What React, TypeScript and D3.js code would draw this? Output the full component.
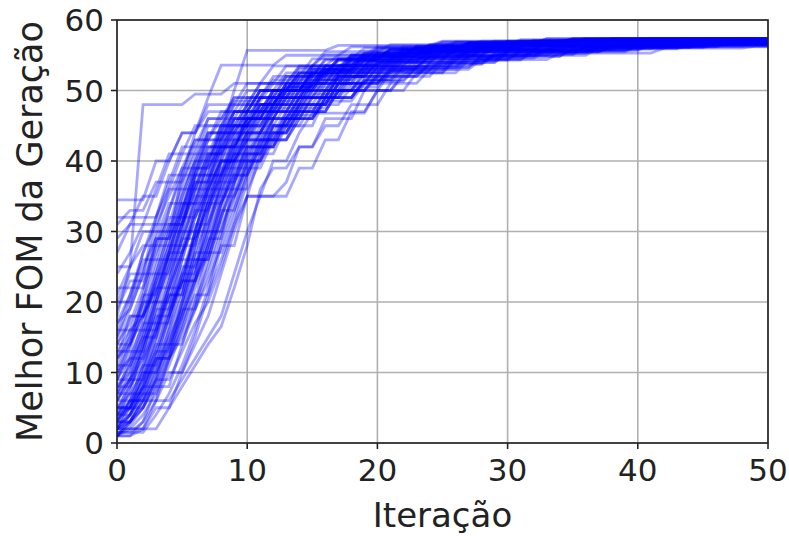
import React from 'react';
import * as d3 from 'd3';

// each run: [iteration, best FOM] at the iterations where the best value changed
// (value is held flat between change points)
const fastRuns: number[][][] = [
  [[0,34.5],[3,40],[5,44],[7,48],[10,51],[13,53.5],[16,55],[20,56.2],[26,56.9],[35,57.3]],
  [[0,32],[4,38],[6,43],[8,47],[11,50],[14,53],[18,55],[23,56.3],[30,56.9],[40,57.2]],
  [[0,27],[1,31],[3,36],[4,41],[6,45],[9,49],[12,52],[15,54.5],[19,56],[25,56.8],[33,57.3]],
  [[0,18],[1,25],[2,48],[6,49.5],[9,51],[12,53.5],[16,55.5],[21,56.5],[28,57],[38,57.4]],
  [[0,25],[2,30],[4,36],[5,41],[7,46],[9,49],[12,51.5],[15,53.5],[19,55.2],[24,56.2],[31,56.8],[41,57.2]],
  [[0,31],[1,33],[3,37],[5,42],[7,46],[9,48.5],[12,51],[15,53.5],[19,55.5],[24,56.5],[32,57.1]],
  [[0,24],[1,27],[2,31],[4,35],[5,39],[6,43],[8,46],[10,49],[13,52],[16,54.5],[20,56],[27,56.8],[36,57.2]],
  [[0,20],[1,24],[3,32],[4,37],[6,41],[8,45],[10,48],[13,51],[16,53.5],[20,55.4],[25,56.4],[33,57],[43,57.3]],
  [[0,29],[1,31],[2,35],[4,40],[5,44],[7,47],[10,50],[13,52.5],[17,54.5],[21,55.8],[27,56.6],[36,57.1]],
  [[0,22],[3,29],[4,34],[6,39],[7,43],[9,47],[11,50],[14,52.5],[18,54.8],[23,56],[30,56.7],[39,57.1]],
  [[0,20],[2,27],[3,31],[5,37],[6,42],[9,46],[12,50],[15,52.8],[19,54.8],[24,56],[31,56.7],[40,57.2]],
  [[0,11],[1,16],[3,24],[4,30],[6,38],[7,44],[9,50],[10,55.7],[17,56.4],[25,57],[36,57.4]],
  [[0,14],[2,21],[3,29],[5,38],[6,44],[7,49],[8,53.6],[13,55],[18,56.2],[25,56.9],[35,57.3]],
];

const typicalRuns: number[][][] = [
  [[0,2],[1,5],[3,9],[4,16],[5,22],[6,30],[7,36],[9,42],[11,46],[13,50],[15,52.5],[18,54.5],[22,55.8],[27,56.7],[35,57.3]],
  [[0,12],[1,18],[3,25],[4,31],[6,38],[8,44],[10,48],[13,51],[16,53.5],[20,55.3],[25,56.3],[32,57]],
  [[0,5],[2,10],[3,17],[5,24],[7,33],[8,40],[10,44],[12,47.5],[15,50],[18,52.5],[21,54.5],[26,55.8],[33,56.6]],
  [[0,7],[2,14],[3,20],[4,27],[5,33],[6,39],[8,45],[11,49],[14,52],[17,54.3],[21,55.7],[27,56.6],[36,57.2]],
  [[0,15],[1,19],[2,24],[4,30],[5,36],[7,41],[9,46],[12,49],[15,52],[18,54],[22,55.5],[28,56.4],[37,56.9]],
  [[0,9],[1,13],[3,19],[4,26],[6,33],[7,38],[9,43],[10,47],[13,50],[15,53],[19,55],[24,56.3],[31,57],[41,57.4]],
  [[0,4],[2,8],[3,13],[5,20],[6,27],[8,34],[9,39],[10,44],[12,48],[15,51],[18,53],[22,54.8],[27,55.8],[35,56.4]],
  [[0,6],[1,10],[2,15],[4,21],[5,28],[7,35],[8,41],[10,46],[13,49],[16,52],[19,54.2],[23,55.6],[29,56.5],[38,57.1]],
  [[0,3],[2,6],[3,11],[4,17],[5,23],[6,30],[8,37],[10,43],[11,47],[14,50],[17,52.5],[20,54.5],[25,55.9],[32,56.8]],
  [[0,10],[1,15],[2,20],[4,25],[5,31],[6,36],[8,40],[10,45],[12,48.5],[15,51.5],[18,53.8],[22,55.3],[28,56.5],[36,57.3]],
  [[0,13],[2,20],[3,28],[5,35],[6,40],[7,44],[9,48],[11,51],[14,53.5],[17,55],[22,56.2],[29,57]],
  [[0,8],[1,11],[2,16],[3,22],[5,29],[6,34],[7,40],[9,45],[11,49],[14,51.5],[18,53.5],[22,54.8],[28,55.6],[36,56.2]],
  [[0,5],[2,9],[3,15],[4,22],[6,30],[7,37],[8,42],[10,46],[12,49.5],[15,52.3],[18,54.3],[22,55.7],[28,56.6],[37,57.2]],
  [[0,17],[1,21],[2,26],[4,33],[5,39],[7,44],[9,47],[12,50],[15,53],[18,55],[23,56.2],[30,56.9]],
  [[0,6],[1,9],[2,13],[3,19],[5,26],[6,32],[7,37],[8,42],[10,46],[13,49],[16,51.5],[19,53.6],[23,55.2],[29,56.4],[38,57.3]],
  [[0,4],[1,7],[3,12],[4,18],[5,25],[7,31],[8,36],[10,41],[12,45],[14,49],[17,52],[20,54],[24,55.4],[30,56.2],[40,56.7]],
  [[0,9],[2,12],[3,17],[4,23],[5,30],[6,35],[8,39],[9,43],[11,47],[14,50],[16,52.8],[20,54.8],[25,56],[32,56.7],[42,57.1]],
  [[0,7],[1,12],[3,18],[4,24],[5,29],[7,34],[8,38],[9,41],[11,45],[13,48],[16,51],[19,53.5],[23,55],[29,56],[38,56.5]],
  [[0,12],[1,14],[2,19],[3,24],[5,32],[6,37],[8,43],[9,46],[11,49],[13,52],[16,54.3],[20,55.8],[26,56.8],[35,57.4]],
  [[0,3],[1,5],[2,10],[3,15],[4,20],[5,26],[7,33],[8,38],[9,42],[12,46],[14,49],[17,52],[20,54],[24,55.5],[30,56.4],[39,56.9]],
  [[0,16],[2,18],[3,23],[4,28],[5,34],[7,40],[8,45],[10,48],[13,51],[15,53.5],[19,55.3],[24,56.4],[31,57.2]],
  [[0,8],[2,13],[3,20],[5,27],[6,33],[8,38],[9,44],[11,48],[13,50.5],[16,53],[19,54.8],[24,56],[31,56.8]],
  [[0,10],[1,12],[2,17],[4,22],[5,27],[6,33],[7,38],[9,42],[10,45],[12,48],[15,51],[18,53.2],[21,54.8],[26,55.9],[33,56.6],[43,57]],
  [[0,19],[1,23],[3,28],[4,32],[6,37],[7,42],[9,45],[11,48],[13,50.5],[16,53],[19,55],[24,56.3],[31,57],[41,57.3]],
  [[0,5],[1,8],[2,11],[4,16],[5,21],[6,28],[7,35],[9,41],[10,47],[13,50],[16,52.5],[19,54.3],[24,55.6],[31,56.3],[41,56.6]],
  [[0,14],[1,17],[2,22],[3,27],[4,31],[6,36],[7,41],[9,45],[11,48],[14,51],[17,53.5],[21,55.2],[26,56.3],[34,57.1]],
  [[0,6],[2,11],[3,16],[4,21],[6,27],[7,32],[8,37],[9,41],[11,44],[12,47],[15,50],[18,52.5],[22,54.5],[27,55.8],[34,56.5],[44,56.9]],
  [[0,9],[1,12],[2,17],[3,23],[4,28],[6,35],[7,40],[8,44],[10,47],[12,50],[15,52.5],[18,54.5],[22,55.8],[28,56.7],[37,57.2]],
  [[0,11],[2,15],[3,21],[4,26],[5,31],[6,37],[8,42],[10,46],[12,49],[15,51.5],[19,53.3],[24,54.8],[30,55.6],[38,56.3]],
  [[0,15],[1,20],[2,25],[3,29],[5,33],[6,38],[8,43],[9,47],[11,50],[14,52.5],[17,54.5],[21,55.8],[27,56.6],[35,57]],
  [[0,7],[1,9],[2,14],[3,18],[5,23],[6,29],[7,34],[9,38],[10,42],[12,46],[15,49.5],[18,52],[21,54],[25,55.5],[31,56.5],[40,57.3]],
  [[0,3],[1,8],[2,12],[3,16],[4,22],[5,27],[6,31],[8,36],[9,40],[10,43],[13,47],[16,50],[19,52.8],[23,54.6],[28,55.8],[35,56.4],[45,56.8]],
  [[0,5],[1,7],[2,10],[4,15],[5,20],[6,26],[8,32],[9,37],[10,41],[12,45],[14,48],[17,51],[20,53.3],[24,55],[29,56.1],[37,56.8],[46,57.1]],
  [[0,13],[1,16],[2,21],[4,27],[5,32],[7,36],[8,40],[10,43],[12,46],[14,49],[17,52],[20,54],[25,55.5],[32,56.3],[42,56.7]],
  [[0,8],[1,10],[2,15],[3,20],[4,25],[5,30],[7,36],[8,41],[9,45],[11,48],[13,51],[16,53.5],[20,55.3],[25,56.5],[33,57.4]],
  [[0,6],[1,9],[3,14],[4,19],[5,23],[7,29],[8,34],[9,39],[11,43],[13,46.5],[16,50],[19,52.5],[22,54.3],[27,55.6],[34,56.5],[44,56.9]],
  [[0,10],[1,14],[2,18],[3,23],[4,29],[5,34],[7,39],[8,43],[10,46],[12,49],[15,52],[18,54.2],[22,55.7],[28,56.6],[37,57.2]],
  [[0,17],[1,19],[2,24],[3,30],[5,35],[6,40],[8,44],[10,47],[12,50],[15,52.5],[18,54.6],[23,56],[30,56.8],[40,57]],
];

const extraRuns: number[][][] = [
  [[0,4],[1,9],[2,14],[3,21],[4,27],[5,33],[6,38],[7,42],[9,46],[11,49],[14,52],[17,54.3],[21,55.8],[27,56.7],[36,57.2]],
  [[0,2],[1,6],[2,11],[3,16],[4,21],[6,28],[7,34],[8,39],[10,43],[12,47],[14,50],[17,52.6],[21,54.6],[26,55.9],[33,56.7],[43,57.1]],
  [[0,12],[1,15],[2,20],[3,26],[5,31],[6,36],[7,41],[9,44],[11,47.5],[13,50.5],[16,53],[20,55],[25,56.2],[32,56.9]],
  [[0,7],[1,11],[2,16],[4,23],[5,29],[6,34],[8,40],[9,44],[11,47],[13,50],[16,52.5],[19,54.3],[24,55.8],[30,56.6],[39,57]],
  [[0,3],[1,6],[2,9],[3,13],[4,19],[5,24],[6,29],[7,33],[8,38],[10,42],[12,46],[14,49],[17,52],[21,54.2],[26,55.7],[33,56.6],[42,57.2]],
  [[0,21],[1,25],[2,28],[4,33],[5,38],[7,43],[9,47],[11,50],[14,52.5],[17,54.5],[21,56],[27,56.8],[37,57.3]],
  [[0,9],[1,14],[2,18],[3,22],[4,27],[6,32],[7,37],[9,41],[10,44],[12,47],[15,50.5],[18,53],[22,55],[28,56.3],[36,57]],
  [[0,5],[2,8],[3,12],[4,18],[5,24],[6,30],[7,36],[8,40],[10,44],[12,48],[15,51],[18,53.5],[22,55.3],[28,56.4],[37,56.9]],
  [[0,1],[1,3],[2,7],[3,12],[5,17],[6,23],[7,28],[8,34],[9,38],[11,42],[13,46],[15,49],[18,52],[22,54],[27,55.5],[34,56.4],[44,57]],
  [[0,14],[1,18],[3,22],[4,27],[5,33],[6,39],[8,42],[10,45],[12,48],[14,51],[17,53.6],[21,55.4],[27,56.5],[35,57.1]],
  [[0,2],[1,4],[2,8],[3,13],[4,18],[5,23],[7,27],[8,32],[9,37],[10,41],[12,45],[14,48],[17,51],[20,53.4],[24,55],[30,56.1],[38,56.8]],
  [[0,16],[1,21],[2,27],[3,32],[4,36],[6,40],[7,45],[9,48],[11,51],[14,53.3],[18,55],[23,56.2],[30,57]],
];

const slowRuns: number[][][] = [
  [[0,1],[2,3],[3,8],[5,14],[6,20],[7,28],[8,35],[9,40],[12,45],[14,48],[17,51],[21,53.5],[26,55],[33,56.2],[41,57.1]],
  [[0,3],[1,6],[4,12],[5,19],[6,26],[8,32],[9,38],[11,43],[14,47],[17,50],[20,52.5],[24,54],[30,55.5],[38,56.2],[47,56.6]],
  [[0,1.5],[3,4],[4,7],[5,11],[6,16],[7,22],[8,29],[9,34],[10,40],[12,44],[14,48],[17,51],[21,53],[25,54.5],[31,55.7],[40,56.5],[48,56.9]],
  [[0,2],[3,5],[5,10],[6,14],[7,18],[8,24],[9,30],[10,35],[12,40],[14,44],[15,46.8],[20,50],[22,52],[25,54],[30,55.3],[37,56.2],[46,56.8]],
  [[0,1],[1,2],[3,6],[4,10],[6,15],[7,21],[8,28],[10,35],[11,41],[13,45],[16,49],[19,51.5],[22,53.5],[27,55],[34,56],[43,56.4]],
  [[0,2.5],[1,4],[2,8],[4,13],[5,18],[6,23],[7,29],[9,37],[10,42],[13,46],[15,49],[18,51],[21,53],[26,54.8],[32,55.8],[41,56.6]],
  [[0,1],[2,2],[4,5],[5,8],[6,11],[7,14],[8,16.5],[9,22],[10,28],[11,36],[12,39],[14,42],[16,45],[18,48],[21,51],[24,53],[28,54.4],[34,55.3],[42,56],[49,56.3]],
  [[0,3],[2,5],[3,9],[5,13],[6,17],[7,20],[8,25],[9,31],[10,35],[13,37],[14,42],[16,46],[19,50],[22,52.5],[26,54.3],[31,55.5],[38,56.3],[47,56.9]],
  [[0,2],[1,3],[2,6],[3,10],[4,14],[6,19],[7,26],[8,33],[9,40],[11,44],[13,47],[16,50],[19,52],[23,54],[29,55.3],[36,56.2],[45,56.8]],
  [[0,1],[1,4],[2,7],[4,11],[5,16],[6,22],[7,27],[9,32],[10,38],[11,42],[13,46],[16,49],[19,51.5],[23,53.4],[28,54.9],[35,56],[44,56.7]],
  [[0,2],[2,4],[3,7],[4,12],[5,17],[6,21],[8,26],[9,31],[10,37],[11,41],[12,44],[14,47],[17,50],[20,52],[24,53.8],[29,55.1],[36,56.1],[45,56.8]],
  [[0,3.5],[1,5],[2,9],[3,14],[5,20],[6,25],[7,30],[8,35],[10,40],[11,44],[14,47.5],[17,50],[20,52],[24,53.7],[29,55],[37,56.1],[46,56.5]],
  [[0,1],[1,2.5],[2,5],[3,8],[4,12],[5,15],[6,19],[7,24],[8,30],[9,36],[11,40],[12,43],[14,46],[16,48.5],[19,51],[22,53],[27,54.6],[33,55.7],[41,56.5],[49,56.9]],
  [[0,4],[1,6],[3,10],[4,14],[5,18],[6,24],[7,31],[8,37],[9,43],[11,46],[13,49],[15,51],[19,53],[24,54.7],[30,55.8],[39,56.5],[48,57]],
  [[0,2],[1,4],[2,7],[3,11],[4,15],[5,19],[7,23],[8,28],[9,33],[10,39],[12,43],[14,46],[16,49],[19,51.3],[23,53.3],[28,54.8],[35,55.9],[44,56.6]],
  [[0,1.5],[2,3],[3,6],[5,9],[6,12],[7,15],[8,18],[9,24],[10,30],[11,35],[14,39],[16,43],[18,47],[20,50],[23,52.5],[27,54.3],[32,55.5],[40,56.3],[49,56.8]],
  [[0,2],[1,3],[2,5],[3,9],[4,13],[5,18],[6,23],[7,28],[8,33],[10,38],[11,42],[13,45],[15,48],[18,50.5],[21,52.8],[25,54.3],[30,55.5],[37,56.3],[46,56.8]],
  [[0,4],[1,5],[2,8],[3,12],[5,16],[6,20],[7,25],[8,31],[9,35],[10,40],[12,44],[14,47],[17,50],[21,52.6],[26,54.5],[32,55.7],[40,56.5],[49,57.2]],
  [[0,1],[1,3],[2,6],[3,9],[4,14],[5,19],[6,24],[7,30],[9,35],[10,39],[11,43],[13,46],[16,49],[19,51.5],[22,53.3],[27,54.9],[33,55.9],[42,56.5]],
];

const xTicks = [0, 10, 20, 30, 40, 50];
const yTicks = [0, 10, 20, 30, 40, 50, 60];
const xLabel = 'Iteração';
const yLabel = 'Melhor FOM da Geração';
const lastIteration = 50;

const W = 789;
const H = 536;
const margin = { left: 117, right: 21, top: 20, bottom: 93 };

// keep the best value flat until the iteration before each change
function expandRun(run: number[][]): [number, number][] {
  const pts: [number, number][] = [];
  let prev: number[] | null = null;
  for (const [i, v] of run) {
    if (prev && i - 1 > prev[0]) pts.push([i - 1, prev[1]]);
    pts.push([i, v]);
    prev = [i, v];
  }
  if (prev && prev[0] < lastIteration) pts.push([lastIteration, prev[1]]);
  return pts;
}

export default function App() {
  const x = d3.scaleLinear().domain([0, 50]).range([margin.left, W - margin.right]);
  const y = d3.scaleLinear().domain([0, 60]).range([H - margin.bottom, margin.top]);
  const line = d3.line<[number, number]>().x(d => x(d[0])).y(d => y(d[1]));

  const runs = [...fastRuns, ...typicalRuns, ...extraRuns, ...slowRuns];
  const font = 'DejaVu Sans, sans-serif';
  const x0 = x(0), x1 = x(50), y0 = y(0), y1 = y(60);

  return (
    <svg width={W} height={H} style={{ position: 'absolute', left: 0, top: 0, background: '#fff' }}>
      <defs>
        <clipPath id="plot">
          <rect x={x0} y={y1} width={x1 - x0} height={y0 - y1} />
        </clipPath>
      </defs>
      {/* grid */}
      <g stroke="#b0b0b0" strokeWidth={1.6}>
        {xTicks.map(t => <line key={'gx' + t} x1={x(t)} x2={x(t)} y1={y1} y2={y0} />)}
        {yTicks.map(t => <line key={'gy' + t} x1={x0} x2={x1} y1={y(t)} y2={y(t)} />)}
      </g>
      {/* runs */}
      <g clipPath="url(#plot)" fill="none" stroke="#0000ff" strokeOpacity={0.34} strokeWidth={2.8}>
        {runs.map((r, i) => <path key={i} d={line(expandRun(r)) || ''} />)}
      </g>
      {/* spines */}
      <rect x={x0} y={y1} width={x1 - x0} height={y0 - y1} fill="none" stroke="#222" strokeWidth={1.6} />
      {/* ticks */}
      <g stroke="#222" strokeWidth={1.6}>
        {xTicks.map(t => <line key={'tx' + t} x1={x(t)} x2={x(t)} y1={y0} y2={y0 + 6} />)}
        {yTicks.map(t => <line key={'ty' + t} x1={x0 - 6} x2={x0} y1={y(t)} y2={y(t)} />)}
      </g>
      <g fontFamily={font} fontSize={31} fill="#222">
        {xTicks.map(t => (
          <text key={'lx' + t} x={x(t)} y={y0 + 38} textAnchor="middle">{t}</text>
        ))}
        {yTicks.map(t => (
          <text key={'ly' + t} x={x0 - 13} y={y(t)} dy="0.36em" textAnchor="end">{t}</text>
        ))}
      </g>
      <text x={(x0 + x1) / 2} y={527} textAnchor="middle" fontFamily={font} fontSize={34} fill="#222">{xLabel}</text>
      <text transform={`translate(42,${(y0 + y1) / 2}) rotate(-90)`} textAnchor="middle"
        fontFamily={font} fontSize={35} fill="#222">{yLabel}</text>
    </svg>
  );
}
